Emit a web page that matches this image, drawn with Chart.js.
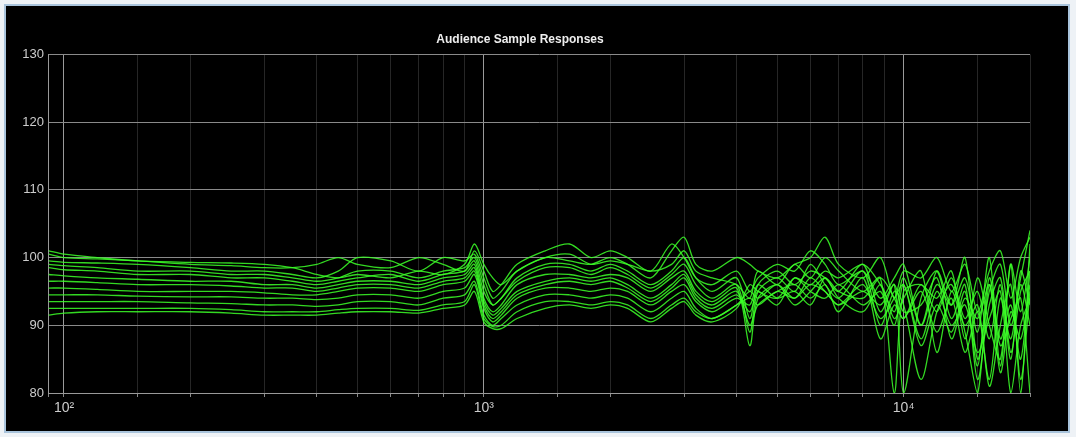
<!DOCTYPE html>
<html>
<head>
<meta charset="utf-8">
<script src="https://cdn.jsdelivr.net/npm/chart.js@4"></script>
<style>
  body { margin: 0; background: #eef2f6; }
  .frame { position: absolute; left: 4px; top: 4px; width: 1066px; height: 429px; border: 2px solid #a9c4dc; background: #000; box-sizing: border-box; }
  .wrap { position: absolute; left: 10px; top: 10px; width: 1056px; height: 422px; }
</style>
</head>
<body>
<div class="frame"></div>
<div class="wrap"><canvas id="myChart"></canvas></div>
<script>
var freq = [92,100,120,150,200,250,300,350,400,450,500,600,700,800,900,950,1000,1050,1100,1200,1400,1600,1800,2000,2200,2500,2800,3000,3200,3500,4000,4300,4500,5000,5500,6000,6500,7000,8000,8800,9500,10000,11000,12000,13000,14000,15000,16000,17000,18000,19000,20000];

var s1 = [101,100.5,100,99.5,99.3,99.2,99,98.5,97.5,97,97.5,97,98,97.5,99,102,99,97,96,98,100,99.5,99,100,99,97,101,103,99,98,100,99,98,97,99,100,103,99,97,100,94,98,97,100,95,99,92,98,101,94,100,103];
var s2 = [100.5,100,99.8,99.5,99,98.8,98.5,98.5,99,100,99,98.5,100,99,98,101,98,95,96,99,101,102,100,101,100,98,102,100,97,96,98,95,97,99,98,101,99,96,98,94,97,99,90,96,93,100,85,95,99,90,97,104];
var s3 = [99.5,99.3,99.2,99,98.5,98,98,97.5,97,98,100,99.5,98,100,99.5,100.5,97,94,95,98,100,100.5,99,99.5,99,98,99,101,98,97,96,94,98,96,99,97,100,98,95,97,80,95,96,94,98,88,97,90,85,99,92,100];
var s4 = [99,98.8,98.5,98,98,97.5,97.5,97,96.5,97,98,98,97,98,98.5,100,96,93,94,97,99,99,98,99,98,96,98,100,97,95,97,91,96,98,96,98,97,95,99,92,96,80,94,98,91,96,82,93,97,86,95,98];
var s5 = [98.5,98.2,98,97.5,97.5,97,97,96.5,96,96.5,97,97.5,96.5,97.5,98,99.5,95,93,94,96.5,98.5,98.5,97.5,98.5,97.5,95.5,97.5,99,96,94,96,89,95,97,95,99,96,94,98,90,95,93,82,92,96,89,80,96,83,92,88,96];
var s6 = [97.5,97.3,97,96.8,96.5,96.5,96,96,95.5,96,96.5,96.5,96,97,97.5,99,94,92,93,96,97.5,97.5,97,97.5,97,95,97,98,95,93.5,95.5,87,94,96,94,97,95,93,96,91,94,96,88,95,90,93,86,91,95,80,90,94];
var s7 = [96.5,96.5,96.3,96,96,95.8,95.5,95.5,95,95.5,96,96,95.5,96.5,97,98.5,93.5,91.5,92.5,95,96.5,97,96.5,97,96,94,96,97.5,94.5,93,95,90,93,95,96,94,96,92,97,88,93,91,95,89,94,86,92,82,94,88,96,90];
var s8 = [95.5,95.5,95.3,95,95,95,94.8,94.5,94.5,95,95.5,95.5,95,96,96.5,98,93,91,92,94.5,96,96.5,96,96.5,95.5,93.5,95.5,97,94,92.5,94.5,92,95,93,97,95,94,96,93,95,90,96,87,93,89,95,84,97,88,93,85,98];
var s9 = [94.5,94.5,94.5,94.3,94.2,94.2,94,94,93.8,94,94.5,94.5,94,95,95.5,97.5,92.5,90.5,91.5,94,95.5,95.5,95,95.5,95,93,95,96,93.5,92,94,93,96,94,95,93,97,94,92,96,91,94,98,86,95,90,93,81,90,96,82,95];
var s10 = [93.5,93.5,93.5,93.5,93.3,93.2,93,93,92.8,93,93.5,93.5,93,94,94.5,96.5,91.5,90,91,93,94.5,94.5,94,94.5,94,92,94,95,92.5,91,93,94,93,95,94,96,95,93,95,93,96,92,93,97,88,94,91,96,87,91,94,80];
var s11 = [92.5,92.5,92.5,92.5,92.5,92.3,92,92,92,92.3,92.5,92.5,92.2,93,93.5,96,91,89.8,90,92,93.5,93.5,93,93.5,93,91,93,94,92,91,93,95,94,96,93,95,97,95,94,97,94,91,96,92,97,91,95,88,96,85,98,93];
var s12 = [91.5,91.8,92,92,92,91.8,91.5,91.5,91.5,91.8,92,92,91.8,92.5,93,95,90.5,89.5,89.5,91,92.5,93,92.5,93,92.5,90.5,92.5,93.5,91.5,90.5,92.5,96,95,94,97,96,98,97,99,96,92,97,90,98,93,97,89,100,84,99,80,102];

var allSeries = [s1, s2, s3, s4, s5, s6, s7, s8, s9, s10, s11, s12];
var yTicks = [80, 90, 100, 110, 120, 130];

var datasets = allSeries.map(function (s) {
	return {
		data: s.map(function (v, i) { return { x: freq[i], y: v }; }),
		borderColor: "rgba(60,255,40,0.85)",
		borderWidth: 1.3,
		pointRadius: 0,
		tension: 0.3,
		fill: false,
	};
});

var sup = { 2: "10²", 3: "10³", 4: "10⁴" };

const config = {
	type: "line",
	data: { datasets: datasets },
	options: {
		animation: false,
		responsive: true,
		maintainAspectRatio: false,
		layout: { padding: { right: 36 } },
		plugins: {
			legend: { display: false },
			tooltip: { enabled: false },
			title: {
				display: true,
				text: "Audience Sample Responses",
				color: "#eeeeee",
				font: { family: "Liberation Sans", size: 12, weight: "bold" },
				padding: { top: 22, bottom: 8 },
			},
		},
		scales: {
			x: {
				type: "logarithmic",
				min: 91.6,
				max: 20000,
				afterFit: function (s) { s.height = 39; },
				grid: {
					color: function (ctx) {
						var v = ctx.tick && ctx.tick.value;
						var l = Math.log10(v);
						return Math.abs(l - Math.round(l)) < 1e-6 ? "#9a9a9a" : "#262626";
					},
					lineWidth: 1,
					tickLength: 4,
					tickColor: "#888",
				},
				border: { color: "#999" },
				ticks: {
					autoSkip: false,
					maxRotation: 0,
					color: "#cccccc",
					font: { family: "Liberation Sans", size: 14 },
					callback: function (v) {
						var l = Math.log10(v);
						return Math.abs(l - Math.round(l)) < 1e-6 ? sup[Math.round(l)] : "";
					},
				},
			},
			y: {
				min: 80,
				max: 130,
				afterFit: function (s) { s.width = 38; },
				afterBuildTicks: function (s) { s.ticks = yTicks.map(function (v) { return { value: v }; }); },
				grid: { color: "#8a8a8a", drawTicks: false },
				border: { color: "#999" },
				ticks: {
					color: "#cccccc",
					padding: 4,
					font: { family: "Liberation Sans", size: 13 },
				},
			},
		},
	},
};

const myChart = new Chart(document.getElementById("myChart"), config);
</script>
</body>
</html>
